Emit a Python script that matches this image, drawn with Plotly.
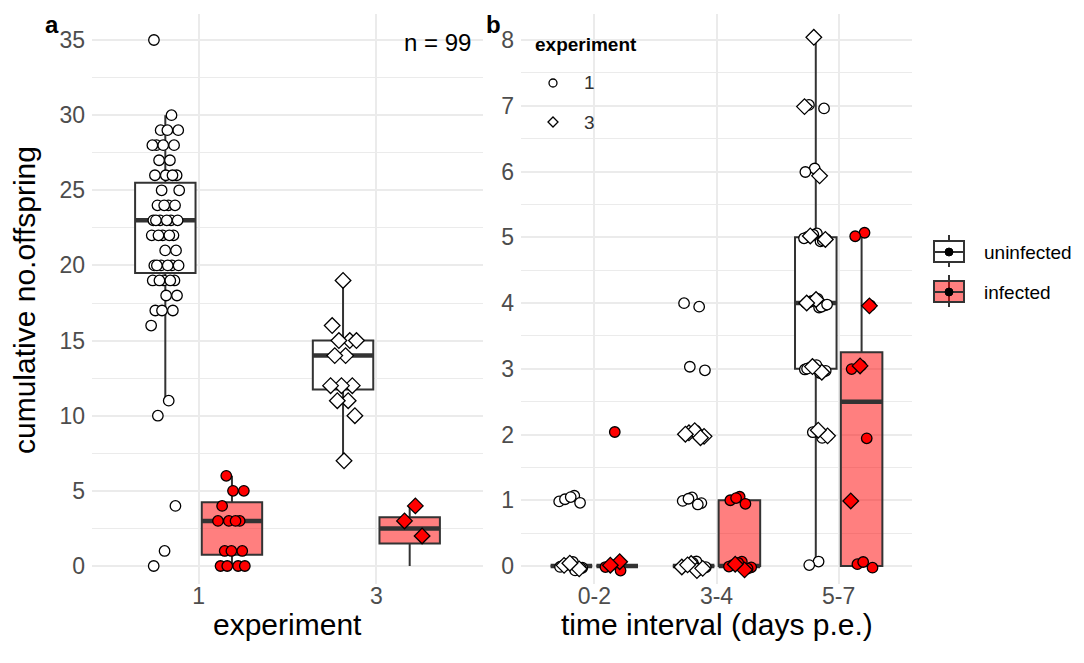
import plotly.graph_objects as go

# ---------------- data ----------------
# Panel a: cumulative no. offspring by experiment and infection status
A_EXPERIMENTS = ["1", "3"]
A_UNINF_EXP1 = [35, 30, 29, 29, 29, 28, 28, 28, 28, 27, 27, 26, 26, 26, 26, 25, 25,
                24, 24, 24, 24, 23, 23, 23, 23, 23, 23, 22, 22, 22, 22, 22, 21, 21,
                20, 20, 20, 20, 20, 20, 19, 19, 19, 19, 19, 18, 18, 17, 17, 17, 16,
                11, 10, 4, 1, 0]
A_INF_EXP1 = [6, 5, 5, 4, 3, 3, 3, 3, 1, 1, 1, 0, 0, 0, 0]
A_UNINF_EXP3 = [19, 16, 15, 15, 15, 14, 14, 12, 12, 12, 11, 11, 10, 7]
A_INF_EXP3 = [4, 3, 2]

# box statistics per (experiment, status)
A_BOX_EXP = ["1", "1", "3", "3"]
A_BOX_STATUS = ["uninfected", "infected", "uninfected", "infected"]
A_Q1 = [19.5, 0.75, 11.75, 1.5]
A_MED = [23, 3, 14, 2.5]
A_Q3 = [25.5, 4.25, 15, 3.25]
A_LO = [11, 0, 7, 0]
A_HI = [30, 6, 19, 4]
N_LABEL = "n = 99"

# Panel b: offspring per time interval
B_INTERVALS = ["0-2", "3-4", "5-7"]
B_UNINF_EXP1 = {
    "0-2": [1, 1, 1, 1, 1, 0, 0, 0, 0, 0, 0, 0, 0, 0, 0, 0, 0],
    "3-4": [4, 4, 3, 3, 2, 2, 1, 1, 1, 1, 1, 0, 0, 0, 0, 0, 0, 0, 0, 0, 0, 0, 0],
    "5-7": [7, 7, 6, 6, 5, 5, 5, 5, 5, 5, 5, 5, 4, 4, 4, 4, 4, 4, 4, 4, 4, 4,
            3, 3, 3, 3, 3, 3, 3, 3, 2, 2, 2, 0, 0],
}
B_UNINF_EXP3 = {
    "0-2": [0, 0, 0],
    "3-4": [2, 2, 2, 2, 2, 0, 0, 0, 0, 0],
    "5-7": [8, 7, 6, 5, 5, 4, 4, 3, 3, 2, 2],
}
B_INF_EXP1 = {
    "0-2": [2, 0, 0, 0],
    "3-4": [1, 1, 1, 1, 0, 0, 0, 0, 0, 0],
    "5-7": [5, 5, 4, 3, 3, 2, 0, 0, 0],
}
B_INF_EXP3 = {
    "0-2": [0, 0],
    "3-4": [0, 0],
    "5-7": [4, 3, 1],
}
B_BOX_INTERVAL = ["0-2", "0-2", "3-4", "3-4", "5-7", "5-7"]
B_BOX_STATUS = ["uninfected", "infected", "uninfected", "infected", "uninfected", "infected"]
B_Q1 = [0, 0, 0, 0, 3, 0]
B_MED = [0, 0, 0, 0, 4, 2.5]
B_Q3 = [0, 0, 0, 1, 5, 3.25]
B_LO = [0, 0, 0, 0, 0, 0]
B_HI = [0, 0, 0, 1, 8, 5]

STATUSES = ["uninfected", "infected"]
EXPS = ["1", "3"]

# ---------------- style ----------------
OFF = 8                      # page body margin
W, H = 1084 - OFF, 663 - OFF
FONT = "Liberation Sans, Arial, Helvetica, sans-serif"
LINE = "#333333"
FILL = {"uninfected": "#FFFFFF", "infected": "rgba(255,0,0,0.5)"}
PT_FILL = {"uninfected": "#FFFFFF", "infected": "#FF0000"}
SYMBOL = {"1": "circle", "3": "diamond"}
PT_SIZE = {"1": 10.5, "3": 12}
DODGE = {"uninfected": -0.1875, "infected": 0.1875}
BOX_W = 0.34
GRID = "#EBEBEB"


def px(x):
    return (x - OFF) / W


def py(y):
    return 1 - (y - OFF) / H


PLOT_TOP, PLOT_BOT = 13.7, 584.0
Y_DOM = [py(PLOT_BOT), py(PLOT_TOP)]
XA_DOM = [px(92), px(483)]
XB_DOM = [px(521), px(912)]
# y ranges: value 0 sits at pixel 566, max tick (35 / 8) at pixel 40
A_PPU = (566 - 40) / 35.0
B_PPU = (566 - 40) / 8.0
A_YRANGE = [-(PLOT_BOT - 566) / A_PPU, 35 + (40 - PLOT_TOP) / A_PPU]
B_YRANGE = [-(PLOT_BOT - 566) / B_PPU, 8 + (40 - PLOT_TOP) / B_PPU]


def jit(n, width, shift=0.0):
    return [(((i * 0.6180339887 + shift) % 1.0) - 0.5) * 2 * width for i in range(n)]


fig = go.Figure()


def add_boxes(cats, box_cat, box_status, q1, med, q3, lo, hi, xa, ya):
    pos = {c: i + 1 for i, c in enumerate(cats)}
    for st in STATUSES:
        idx = [i for i, s in enumerate(box_status) if s == st]
        xs = [pos[box_cat[i]] + DODGE[st] for i in idx]
        fig.add_trace(go.Box(
            x=xs, q1=[q1[i] for i in idx], median=[med[i] for i in idx],
            q3=[q3[i] for i in idx], lowerfence=[lo[i] for i in idx],
            upperfence=[hi[i] for i in idx], width=BOX_W, whiskerwidth=0,
            fillcolor=FILL[st], line=dict(color=LINE, width=2),
            boxpoints=False, showlegend=False, hoverinfo="skip",
            xaxis=xa, yaxis=ya))
        mx, my = [], []
        for i in idx:
            c = pos[box_cat[i]] + DODGE[st]
            mx += [c - BOX_W / 2, c + BOX_W / 2, None]
            my += [med[i], med[i], None]
        fig.add_trace(go.Scatter(x=mx, y=my, mode="lines",
                                 line=dict(color=LINE, width=4.5),
                                 showlegend=False, hoverinfo="skip",
                                 xaxis=xa, yaxis=ya))


def add_points(cat_pos, st, exp, vals, jw, jh, xa, ya, shift):
    n = len(vals)
    dx = jit(n, jw, shift)
    dy = jit(n, jh, shift + 0.37) if jh > 0 else [0] * n
    xs = [cat_pos + DODGE[st] + d for d in dx]
    ys = [v + d for v, d in zip(vals, dy)]
    fig.add_trace(go.Scatter(
        x=xs, y=ys, mode="markers",
        marker=dict(symbol=SYMBOL[exp], size=PT_SIZE[exp], color=PT_FILL[st],
                    line=dict(color="#000000", width=1.3)),
        showlegend=False, hoverinfo="skip", xaxis=xa, yaxis=ya))


# panel a
add_boxes(A_EXPERIMENTS, A_BOX_EXP, A_BOX_STATUS, A_Q1, A_MED, A_Q3, A_LO, A_HI, "x", "y")
add_points(1, "uninfected", "1", A_UNINF_EXP1, 0.08, 0, "x", "y", 0.1)
add_points(1, "infected", "1", A_INF_EXP1, 0.08, 0, "x", "y", 0.3)
add_points(2, "uninfected", "3", A_UNINF_EXP3, 0.08, 0, "x", "y", 0.5)
add_points(2, "infected", "3", A_INF_EXP3, 0.08, 0, "x", "y", 0.7)

# panel b
add_boxes(B_INTERVALS, B_BOX_INTERVAL, B_BOX_STATUS, B_Q1, B_MED, B_Q3, B_LO, B_HI, "x2", "y2")
for k, iv in enumerate(B_INTERVALS):
    p = k + 1
    add_points(p, "uninfected", "1", B_UNINF_EXP1[iv], 0.1, 0.07, "x2", "y2", 0.11 * k)
    add_points(p, "uninfected", "3", B_UNINF_EXP3[iv], 0.1, 0.07, "x2", "y2", 0.2 + 0.11 * k)
    add_points(p, "infected", "1", B_INF_EXP1[iv], 0.1, 0.07, "x2", "y2", 0.4 + 0.11 * k)
    add_points(p, "infected", "3", B_INF_EXP3[iv], 0.1, 0.07, "x2", "y2", 0.6 + 0.11 * k)

tickfont = dict(family=FONT, size=23, color="#4D4D4D")
common_x = dict(showgrid=True, gridcolor=GRID, gridwidth=1.6, zeroline=False,
                showline=False, ticks="", tickfont=tickfont, fixedrange=True,
                ticklabelstandoff=-4)
common_y = dict(showgrid=True, gridcolor=GRID, gridwidth=1.6, zeroline=False,
                showline=False, ticks="", tickfont=tickfont, domain=Y_DOM,
                ticklabelstandoff=6)

fig.update_layout(
    width=W, height=H, margin=dict(l=0, r=0, t=0, b=0),
    paper_bgcolor="white", plot_bgcolor="white", showlegend=False,
    font=dict(family=FONT, color="#000000"),
    xaxis=dict(common_x, domain=XA_DOM, range=[0.4, 2.6],
               tickvals=list(range(1, len(A_EXPERIMENTS) + 1)), ticktext=A_EXPERIMENTS),
    yaxis=dict(common_y, range=A_YRANGE, tick0=0, dtick=5,
               minor=dict(dtick=2.5, showgrid=True, gridcolor=GRID, gridwidth=0.8)),
    xaxis2=dict(common_x, domain=XB_DOM, range=[0.4, 3.6], anchor="y2",
                tickvals=list(range(1, len(B_INTERVALS) + 1)), ticktext=B_INTERVALS),
    yaxis2=dict(common_y, range=B_YRANGE, tick0=0, dtick=1, anchor="x2",
                minor=dict(dtick=0.5, showgrid=True, gridcolor=GRID, gridwidth=0.8)),
)


def note(text, x, y, size, xanchor="center", yanchor="middle", angle=0, color="#000000"):
    return dict(text=text, x=px(x), y=py(y), xref="paper", yref="paper",
                xanchor=xanchor, yanchor=yanchor, textangle=angle, showarrow=False,
                font=dict(size=size, family=FONT, color=color))


ann = [
    note("cumulative no.offspring", 24, 300, 30, angle=-90),
    note("experiment", 287.5, 624, 30),
    note("time interval (days p.e.)", 716.5, 624, 30),
    note("<b>a</b>", 52, 8.5, 24, yanchor="top"),
    note("<b>b</b>", 493, 8.5, 24, yanchor="top"),
    note(N_LABEL, 473, 43, 24, xanchor="right"),
    note("<b>experiment</b>", 533, 44, 19, xanchor="left"),
]
for lab, yy in zip(EXPS, [83, 122]):
    ann.append(note(lab, 582, yy, 19, xanchor="left", color="#333333"))
for lab, yy in zip(STATUSES, [252, 292]):
    ann.append(note(lab, 982, yy, 19, xanchor="left"))
fig.update_layout(annotations=ann)

shapes = []
# experiment legend symbols
shapes.append(dict(type="circle", xref="paper", yref="paper", x0=px(549), x1=px(557),
                   y0=py(87), y1=py(79), line=dict(color="#000", width=1.3), fillcolor="white"))
cx, cy, r = 553, 122, 5
shapes.append(dict(type="path", xref="paper", yref="paper",
                   path=f"M {px(cx - r)} {py(cy)} L {px(cx)} {py(cy - r)} L {px(cx + r)} {py(cy)} L {px(cx)} {py(cy + r)} Z",
                   line=dict(color="#000", width=1.3), fillcolor="white"))
for st, yc in zip(STATUSES, [252, 292]):
    shapes.append(dict(type="line", xref="paper", yref="paper", x0=px(949), x1=px(949),
                       y0=py(yc - 17), y1=py(yc + 15), line=dict(color=LINE, width=2)))
    shapes.append(dict(type="rect", xref="paper", yref="paper", x0=px(934), x1=px(964),
                       y0=py(yc + 10), y1=py(yc - 11), line=dict(color=LINE, width=2),
                       fillcolor=FILL[st]))
    shapes.append(dict(type="line", xref="paper", yref="paper", x0=px(934), x1=px(964),
                       y0=py(yc), y1=py(yc), line=dict(color=LINE, width=2)))
    shapes.append(dict(type="circle", xref="paper", yref="paper", x0=px(945), x1=px(953),
                       y0=py(yc + 4), y1=py(yc - 4), line=dict(color="#000", width=1),
                       fillcolor="#000"))
fig.update_layout(shapes=shapes)

fig.write_html("out.html")
